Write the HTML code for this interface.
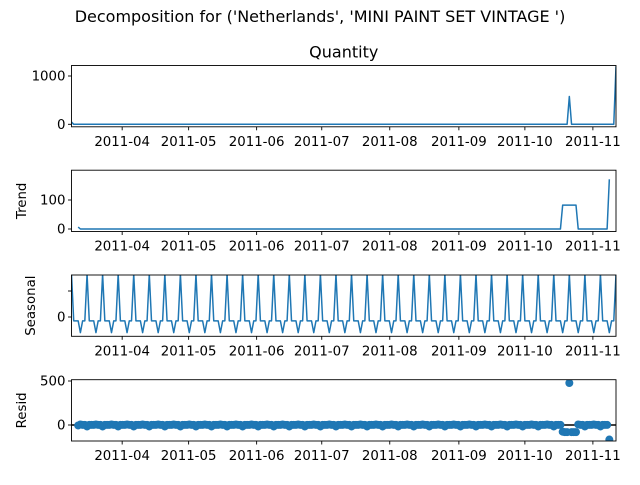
<!DOCTYPE html>
<html><head><meta charset="utf-8"><style>
body{margin:0;background:#fff}
svg text{font-family:"DejaVu Sans","Liberation Sans",sans-serif;fill:#000}
</style></head><body>
<svg id="c" width="640" height="480" xmlns="http://www.w3.org/2000/svg">
<text x="320" y="22" font-size="16" text-anchor="middle">Decomposition for ('Netherlands', 'MINI PAINT SET VINTAGE ')</text>
</svg>
<script>
const quantity=[48,0,0,0,0,0,0,0,0,0,
0,0,0,0,0,0,0,0,0,0,0,0,0,0,0,0,0,0,0,0,
0,0,0,0,0,0,0,0,0,0,0,0,0,0,0,0,0,0,0,0,
0,0,0,0,0,0,0,0,0,0,0,0,0,0,0,0,0,0,0,0,
0,0,0,0,0,0,0,0,0,0,0,0,0,0,0,0,0,0,0,0,
0,0,0,0,0,0,0,0,0,0,0,0,0,0,0,0,0,0,0,0,
0,0,0,0,0,0,0,0,0,0,0,0,0,0,0,0,0,0,0,0,
0,0,0,0,0,0,0,0,0,0,0,0,0,0,0,0,0,0,0,0,
0,0,0,0,0,0,0,0,0,0,0,0,0,0,0,0,0,0,0,0,
0,0,0,0,0,0,0,0,0,0,0,0,0,0,0,0,0,0,0,0,
0,0,0,0,0,0,0,0,0,0,0,0,0,0,0,0,0,0,0,0,
0,0,0,0,0,0,0,0,0,0,0,0,0,0,576,0,0,0,0,0,
0,0,0,0,0,0,0,0,0,0,0,0,0,0,0,1200];
const seasonalPattern=[16.5,-1.5,-1.5,-1.5,-6,-1.5,-1.5];
const tickIdx=[22.8,52.7,83.3,112.6,143.2,174.3,204,234.6];
const tickLabels=['2011-04','2011-05','2011-06','2011-07','2011-08','2011-09','2011-10','2011-11'];
const qTicks=[0,1000],tTicks=[0,100],sTicks=[0,10],sLabels=['0',''],rTicks=[0,500];

const N=quantity.length;
const seasonal=quantity.map((_,i)=>seasonalPattern[i%7]);
const trend=quantity.map((_,i)=>{if(i<3||i>N-4)return null;let s=0;for(let k=-3;k<=3;k++)s+=quantity[i+k];return s/7;});
const resid=quantity.map((v,i)=>trend[i]===null?null:v-trend[i]-seasonal[i]);

const svg=document.getElementById('c');const NS='http://www.w3.org/2000/svg';
const L=71.5,R=616,H=61.3;
const x=i=>L+i*(R-L)/(N-1);
function mk(t,a,p){const e=document.createElementNS(NS,t);for(const k in a)e.setAttribute(k,a[k]);(p||svg).appendChild(e);return e;}
const panels=[
 {name:'quantity',top:65.5,y0:124.3,k:0.0483,data:quantity,ticks:qTicks,labels:qTicks.map(String),ylab:null,title:'Quantity'},
 {name:'trend',top:170.2,y0:229,k:0.29,data:trend,ticks:tTicks,labels:tTicks.map(String),ylab:'Trend',lx:26},
 {name:'seasonal',top:275,y0:317,k:2.6,data:seasonal,ticks:sTicks,labels:sLabels,ylab:'Seasonal',lx:35},
 {name:'resid',top:379.7,y0:425,k:0.088,data:resid,ticks:rTicks,labels:rTicks.map(String),ylab:'Resid',lx:26,dots:true}];
panels.forEach(p=>{
 const g=mk('g',{});
 
 
 const y=v=>p.y0-v*p.k;
 const clipId='cl'+p.name;
 const cp=mk('clipPath',{id:clipId},g);mk('rect',{x:L,y:p.top,width:R-L,height:H},cp);
 if(p.dots){
  const zl=mk('line',{x1:L,x2:R,y1:y(0),y2:y(0),stroke:'#000','stroke-width':1.5,'clip-path':`url(#${clipId})`},g);
  
  
  p.data.forEach((v,i)=>{if(v===null)return;
   const c=mk('circle',{cx:x(i),cy:y(v),r:4,fill:'#1f77b4','clip-path':`url(#${clipId})`},g);
   
   });
 }else{
  let d='',pen=false;
  p.data.forEach((v,i)=>{if(v===null){pen=false;return;}d+=(pen?'L':'M')+x(i).toFixed(2)+','+y(v).toFixed(2);pen=true;});
  const pl=mk('path',{d:d,fill:'none',stroke:'#1f77b4','stroke-width':1.5,'stroke-linejoin':'round','clip-path':`url(#${clipId})`},g);
  
  
 }
 const fr=mk('rect',{x:L,y:p.top,width:R-L,height:H,fill:'none',stroke:'#000','stroke-width':0.9},g);
 
 
 p.ticks.forEach((t,j)=>{const yy=y(t);
  mk('line',{x1:L-3.5,x2:L,y1:yy,y2:yy,stroke:'#000','stroke-width':0.9},g);
  if(p.labels[j]){const tx=mk('text',{x:L-6,y:yy+4.5,'font-size':13.33,'text-anchor':'end'},g);tx.textContent=p.labels[j];
  
  }
 });
 const bot=p.top+H;
 tickIdx.forEach((t,j)=>{const xx=x(t);
  mk('line',{x1:xx,x2:xx,y1:bot,y2:bot+3.5,stroke:'#000','stroke-width':0.9},g);
  const tx=mk('text',{x:xx,y:bot+19,'font-size':13.33,'text-anchor':'middle'},g);tx.textContent=tickLabels[j];
  
  
 });
 if(p.ylab){const cy=p.top+H/2;const tx=mk('text',{x:p.lx,y:cy,'font-size':13.33,'text-anchor':'middle',transform:`rotate(-90 ${p.lx} ${cy})`},g);tx.textContent=p.ylab;
  
  }
 if(p.title){const tx=mk('text',{x:(L+R)/2,y:p.top-8,'font-size':16,'text-anchor':'middle'},g);tx.textContent=p.title;
  
  }
});
</script>
</body></html>
